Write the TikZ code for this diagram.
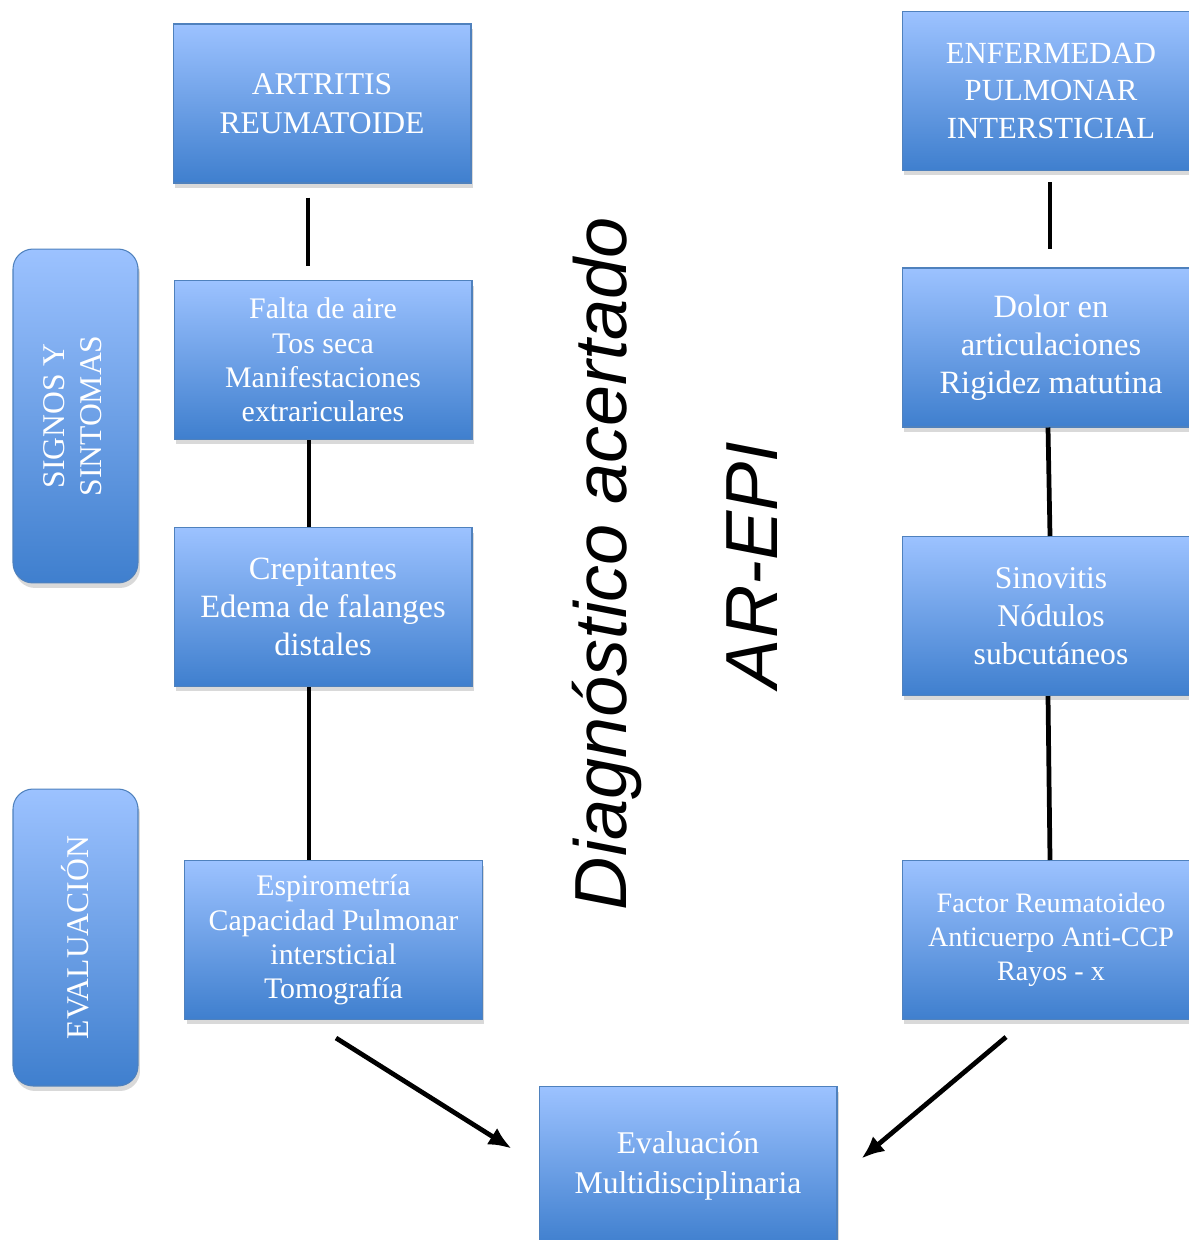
\documentclass[tikz,border=0pt]{standalone}
\usepackage{fontspec}
\setmainfont{Liberation Serif}
\newfontfamily\arialfont{Liberation Sans}
\usepackage{tikz}
\usetikzlibrary{arrows.meta}
\usetikzlibrary{calc}
\usetikzlibrary{shadows}
\definecolor{boxtop}{RGB}{156,194,255}
\definecolor{boxbot}{RGB}{63,127,206}
\definecolor{boxline}{RGB}{79,129,189}
\tikzset{box/.style = {rectangle, draw = boxline, line width = 0.6pt,
                       top color = boxtop, bottom color = boxbot,
                       text = white, align = center, inner sep = 0,
                       minimum width = 5.96cm, minimum height = 3.18cm,
                       font = \fontsize{17}{19.5}\selectfont,
                       drop shadow = {opacity = 0.3, shadow xshift = 0.4mm, shadow yshift = -1mm}}}
\tikzset{side/.style = {box, rounded corners = 0.4cm, minimum width = 2.5cm,
                        font = \fontsize{18}{21}\selectfont}}
\tikzset{link/.style = {line width = 2.7pt}}
\tikzset{arr/.style = {link, -{Latex[length = 13pt, width = 11pt]}}}
\tikzset{bigtxt/.style = {rotate = 90, inner sep = 0, font = \arialfont\itshape\fontsize{42}{48}\selectfont}}

\begin{document}
\begin{tikzpicture}[x = 0.02cm, y = -0.02cm]
      \useasboundingbox (0, 0) rectangle (1189, 1240);
      \clip (0, 0) rectangle (1189, 1240);

      % left column
      \node [box, font = \fontsize{18}{22}\selectfont] (art) at (322, 103.5) {ARTRITIS\\REUMATOIDE};
      \node [box] (falta) at (323, 360) {Falta de aire\\Tos seca\\Manifestaciones\\extrariculares};
      \node [box, font = \fontsize{18.5}{21.5}\selectfont] (crep) at (323, 607) {Crepitantes\\Edema de falanges\\distales};
      \node [box] (espi) at (333.5, 940) {Espirometría\\Capacidad Pulmonar\\intersticial\\Tomografía};

      % right column
      \node [box, font = \fontsize{17.5}{21.5}\selectfont] (epi) at (1051, 91) {ENFERMEDAD\\PULMONAR\\INTERSTICIAL};
      \node [box, font = \fontsize{18.5}{21.5}\selectfont] (dolor) at (1051, 347.5) {Dolor en\\articulaciones\\Rigidez matutina};
      \node [box, font = \fontsize{18}{21.5}\selectfont] (sinov) at (1051, 616) {Sinovitis\\Nódulos\\subcutáneos};
      \node [box, font = \fontsize{16}{19.5}\selectfont] (factor) at (1051, 940) {Factor Reumatoideo\\Anticuerpo Anti-CCP\\Rayos - x};

      \node [box, font = \fontsize{18}{22.5}\selectfont] (multi) at (688, 1166) {Evaluación\\Multidisciplinaria};

      % side labels
      \node [side, minimum height = 6.68cm] (signos) at (75.5, 416)
            {\rotatebox{90}{\begin{tabular}{@{}c@{}}SIGNOS Y\\SINTOMAS\end{tabular}}};
      \node [side, minimum height = 5.94cm] (evalua) at (75.5, 937.5)
            {\rotatebox{90}{EVALUACIÓN}};

      \node [bigtxt] (diag) at (607, 563.5) {Diagnóstico acertado};
      \node [bigtxt] (arepi) at (752, 565) {AR-EPI};

      \draw [link] ($(art.south) + (-14, 14)$) -- ($(falta.north) + (-15, -14)$);
      \draw [link] ($(falta.south) + (-14, 0)$) -- ($(crep.north) + (-14, 0)$);
      \draw [link] ($(crep.south) + (-14, 0)$) -- ($(espi.north) + (-24.5, 0)$);

      \draw [link] ($(epi.south) + (-1, 11)$) -- ($(dolor.north) + (-1, -18)$);
      \draw [link] ($(dolor.south) + (-3, 0)$) -- ($(sinov.north) + (-1, 0)$);
      \draw [link] ($(sinov.south) + (-3, 0)$) -- ($(factor.north) + (-1, 0)$);

      \draw [arr] ($(espi.south) + (2.5, 18)$) -- ($(multi.west) + (-27, -17.5)$);
      \draw [arr] ($(factor.south) + (-45, 17)$) -- ($(multi.east) + (24, -7.5)$);
    \end{tikzpicture}
\end{document}
